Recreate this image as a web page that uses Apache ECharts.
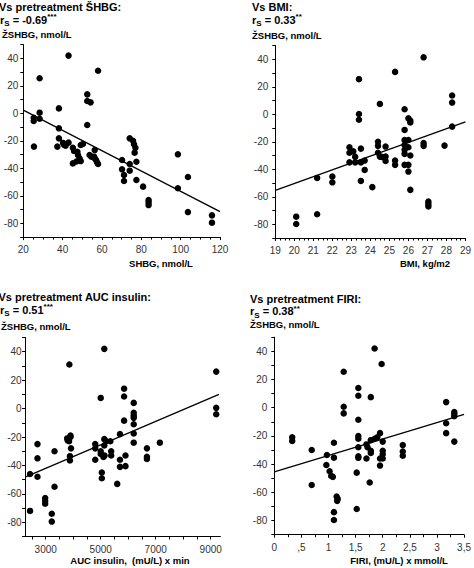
<!DOCTYPE html>
<html>
<head>
<meta charset="utf-8">
<script src="https://cdn.jsdelivr.net/npm/echarts@6/dist/echarts.min.js"></script>
<style>html,body{margin:0;padding:0;background:#fff}#c{width:474px;height:568px}</style>
</head>
<body>
<div id="c"></div>
<script>
// Panel 1: vs pretreatment SHBG
const shbgX = [25.3,25.3,25.4,28.3,28.3,28.3,38.1,38.1,38.1,37.3,43,40.2,41.5,43,40.8,45.2,45.8,45.2,47.5,47.8,48.6,49.2,47,49.2,50.3,52.5,52.5,54.2,52.5,53.7,54.6,56,56.3,58,56.3,57,57.5,58,70.2,70.2,71.2,71.2,74.1,74.1,74.1,75.8,76.3,77,76.6,77.5,77.5,80.9,83.7,83.7,83.7,98.6,98.6,103.7,103.7,115.9,115.9];
const shbgY = [-3.2,-5.6,-24.2,25.5,0.5,-3.9,3.6,-10.9,-18.2,-24.2,42,-21.5,-23.5,-21.3,-23,-25,-27.4,-36.4,-28,-30.3,-32.7,-34.7,-35,-23,-22.3,13.8,9,8,-8.5,-30.3,-31.5,-31.5,-26.7,31,-32.7,-34,-35.6,-36.8,-33.9,-40.7,-44.8,-49.2,-18.2,-36.8,-41.7,-19.9,-22.5,-25,-28.6,-35.2,-48.5,-53.3,-63,-64.7,-66.7,-29.8,-54.5,-46.3,-71.8,-74.2,-79.5];
const shbgLineX = [20,120];
const shbgLineY = [2.4,-71.5];

// Panel 2: vs BMI
const bmiX = [20.1,20.1,21.2,21.2,22,22,22.9,22.9,22.9,23.1,23.2,23.2,23.4,23.4,23.4,23.5,23.5,23.5,23.7,23.7,24.1,24.4,24.4,24.4,24.5,24.5,24.6,24.8,24.8,24.8,25.3,25.3,25.3,25.8,25.8,25.8,25.8,25.8,25.8,25.8,26,26.1,26.1,26,26,26,26,26.1,26.1,26.8,26.8,26.8,27.05,27.05,27.05,27.9,28.3,28.3,28.3];
const bmiY = [-74.5,-79.8,-46.3,-72.7,-45.3,-49.5,-24,-28,-35,-27,-31,-35,25.5,0.2,-4,-25,-35,-48.5,-33.7,-40.5,-53,-20,-23,-28,-30.8,7.5,-31,-23.5,-30.8,-34,30.8,-33.7,-36.8,3.6,-11.4,-18.7,-22.3,-25.9,-28.8,-36.8,-3,-4.6,-6,-18.7,-24,-36.8,-41.7,-30,-55,41.4,-21,-23,-63.5,-65.2,-67,-22.8,13.6,8.5,-9];
const bmiLineX = [19,29];
const bmiLineY = [-55.3,-5.5];

// Panel 3: vs pretreatment AUC insulin
const aucX = [2430,2430,2700,2700,2700,2980,2980,2980,3220,3220,3320,3320,3860,3780,3800,3900,3900,3850,3920,3880,3880,4800,4800,4800,5000,5000,5000,5040,5040,5130,5130,5130,5140,5100,5200,5350,5380,5380,5600,5700,5700,5700,5850,5850,5850,5900,5900,6200,6200,6200,6200,6200,6200,6200,6680,6680,6680,7150,9200,9200,9200];
const aucY = [-46,-72,-25,-35,-48,-63,-65,-67,-74,-79.5,-30,-55,31,-21,-22.5,-20,-19,-23,-28,-33.5,-36.5,-25,-28,-36,7.5,-30,-32,-45,-49,42,-21.5,-26,-33,-34,-23,-23,-30,-33,-53,-18,-36,-41,14,8.5,-8.5,-33,-40.5,4,-3,-5,-6.5,-11,-17.5,-24,-28,-34,-35.5,-24,26,0.5,-4];
const aucLineX = [2250,9300];
const aucLineY = [-48.2,10];
const aucTickLabels = [3000, 5000, 7000, 9000];

// Panel 4: vs pretreatment FIRI
const firiX = [0.33,0.33,0.69,0.69,0.97,0.96,1.02,1.05,1.08,1.1,1.1,1.15,1.16,1.17,1.1,1.1,1.28,1.28,1.28,1.55,1.55,1.55,1.55,1.55,1.55,1.55,1.55,1.52,1.52,1.7,1.72,1.7,1.78,1.78,1.78,1.78,1.76,1.85,1.85,1.98,1.9,1.95,1.95,1.95,2.0,2.0,2.0,2.0,2.37,2.37,2.37,3.17,3.17,3.17,3.32,3.32,3.32,3.32];
const firiY = [-21,-23.5,-30,-54.8,-33.5,-40.6,-45,-48.4,-49,-24.8,-35.4,-63,-66,-64.5,-74,-79.6,25.5,0.7,-4,14,8.5,-8.5,-20,-22,-28,-34.5,-35.5,-46,-71.8,-26,-28,-36,7.5,-23,-30.5,-32,-53,-22,42,31,-21,-18,-36,-41,-24,-30.5,-33,-36,-26.5,-31,-34,4,-11,-18,-3,-4.5,-6,-24];
const firiLineX = [0,3.5];
const firiLineY = [-45.5,-4.7];

// Texts
const titles = ['Vs pretreatment ŠHBG:', 'Vs BMI:', 'Vs pretreatment AUC insulin:', 'Vs pretreatment FIRI:'];
const rsValues = [' = -0.69', ' = 0.33', ' = 0.51', ' = 0.38'];
const rsStars = ['***', '**', '***', '**'];
const yNames = ['ŽSHBG, nmol/L', 'ŽSHBG, nmol/L', 'ŽSHBG, nmol/L', 'ŽSHBG, nmol/L'];
const xNames = ['SHBG, nmol/L', 'BMI, kg/m2', 'AUC insulin,  (mU/L) x min', 'FIRI, (mU/L) x mmol/L'];
const yMin = -90, yMax = 50, yStep = 10;

const FF = '"Liberation Sans", Arial, Helvetica, sans-serif';
const zip = (a, b) => a.map((v, i) => [v, b[i]]);

// panel 3 scale: 0.0275 px per unit, axis from 2250 at x=25.1
const p3px = 0.0275;
const grids = [
  {left: 23.3, top: 44.6, width: 196.7, height: 192.5},
  {left: 275.3, top: 45.5, width: 193.4, height: 192.5},
  {left: 25.1, top: 337.5, width: (9350 - 2250) * p3px, height: 199},
  {left: 274.3, top: 337.2, width: 196, height: 197.5},
  // tick-only grid for panel 3 x axis (starts at 2500)
  {left: 25.1 + 250 * p3px, top: 337.5, width: (9350 - 2500) * p3px, height: 199}
];

const lab = {color: '#333', fontSize: 10, fontFamily: FF};
const axisCommon = {
  axisLine: {show: true, onZero: false, lineStyle: {color: '#000', width: 1}},
  axisTick: {show: true, length: 3, lineStyle: {color: '#000', width: 1}},
  splitLine: {show: false},
  axisLabel: lab
};

const xAxes = [
  Object.assign({}, axisCommon, {gridIndex: 0, type: 'value', min: 20, max: 120, interval: 20,
    minorTick: {show: true, splitNumber: 4, length: 2.5, lineStyle: {color: '#000'}},
    axisLabel: Object.assign({}, lab, {margin: 7})}),
  Object.assign({}, axisCommon, {gridIndex: 1, type: 'value', min: 19, max: 29, interval: 1,
    minorTick: {show: true, splitNumber: 4, length: 2.5, lineStyle: {color: '#000'}},
    axisLabel: Object.assign({}, lab, {margin: 7, showMaxLabel: true})}),
  Object.assign({}, axisCommon, {gridIndex: 2, type: 'value', min: 2250, max: 9350,
    axisTick: {show: false}, axisLabel: {show: false}}),
  Object.assign({}, axisCommon, {gridIndex: 3, type: 'value', min: 0, max: 3.5, interval: 0.5,
    minorTick: {show: true, splitNumber: 2, length: 2.5, lineStyle: {color: '#000'}},
    axisLabel: Object.assign({}, lab, {margin: 8,
      formatter: v => { if (v === 0) return '0'; let s = String(Math.round(v * 10) / 10).replace('.', ','); if (s.startsWith('0,')) s = s.slice(1); return s; }})}),
  Object.assign({}, axisCommon, {gridIndex: 4, type: 'value', position: 'bottom', min: 2500, max: 9350, interval: 500,
    axisLine: {show: false, onZero: false},
    axisTick: {show: true, length: 3, lineStyle: {color: '#000', width: 1}},
    axisLabel: Object.assign({}, lab, {margin: 8, showMaxLabel: false,
      formatter: v => (aucTickLabels.indexOf(v) >= 0 ? String(v) : '')})})
];

const yMargins = [5, 7, 3.5, 7];
const yAxes = [0, 1, 2, 3].map(i => Object.assign({}, axisCommon, {
  gridIndex: i, type: 'value', min: yMin, max: yMax, interval: yStep,
  axisLabel: Object.assign({}, lab, {margin: yMargins[i],
    formatter: v => (v % 20 === 0 ? String(v) : '')})
}));
yAxes.push({gridIndex: 4, type: 'value', min: yMin, max: yMax, show: false});

const scatterData = [zip(shbgX, shbgY), zip(bmiX, bmiY), zip(aucX, aucY), zip(firiX, firiY)];
const lineData = [zip(shbgLineX, shbgLineY), zip(bmiLineX, bmiLineY), zip(aucLineX, aucLineY), zip(firiLineX, firiLineY)];

const series = [];
for (let i = 0; i < 4; i++) {
  series.push({type: 'line', xAxisIndex: i, yAxisIndex: i, data: lineData[i], symbol: 'none',
    lineStyle: {color: '#000', width: 1.3}, silent: true, z: 2});
  series.push({type: 'scatter', xAxisIndex: i, yAxisIndex: i, data: scatterData[i], symbol: 'circle',
    symbolSize: 6.5, itemStyle: {color: '#000', opacity: 1}, silent: true, z: 3});
}
series.push({type: 'scatter', xAxisIndex: 4, yAxisIndex: 4, data: [], silent: true});

// text positions (left x, center y)
const titlePos = [[-1, 7], [252, 7], [-1.5, 297], [250, 298.5]];
const rsPos = [[0, 19.5], [252, 19.5], [0, 309.5], [250, 311]];
const yNamePos = [[2, 34.5], [252, 35], [1, 326.5], [250, 324.5]];
const xNamePos = [[161, 263], [425, 263], [130, 560.5], [399, 560.5]];

const graphics = [];
for (let i = 0; i < 4; i++) {
  graphics.push({type: 'text', x: titlePos[i][0], y: titlePos[i][1], silent: true,
    style: {text: titles[i], fill: '#000', font: 'bold 11px ' + FF, verticalAlign: 'middle', align: 'left'}});
  graphics.push({type: 'text', x: rsPos[i][0], y: rsPos[i][1], silent: true,
    style: {text: '{r|r}{s|S}{v|' + rsValues[i] + '}{a|' + rsStars[i] + '}', verticalAlign: 'middle', align: 'left',
      rich: {
        r: {fontSize: 11, fontWeight: 'bold', fontFamily: FF, color: '#000', lineHeight: 14, verticalAlign: 'middle'},
        s: {fontSize: 8, fontWeight: 'bold', fontFamily: FF, color: '#000', lineHeight: 14, verticalAlign: 'bottom', padding: [0, 0, -1, 0]},
        v: {fontSize: 11, fontWeight: 'bold', fontFamily: FF, color: '#000', lineHeight: 14, verticalAlign: 'middle'},
        a: {fontSize: 8, fontWeight: 'bold', fontFamily: FF, color: '#000', lineHeight: 14, verticalAlign: 'top'}
      }}});
  graphics.push({type: 'text', x: yNamePos[i][0], y: yNamePos[i][1], silent: true,
    style: {text: yNames[i], fill: '#000', font: 'bold 9.5px ' + FF, verticalAlign: 'middle', align: 'left'}});
  graphics.push({type: 'text', x: xNamePos[i][0], y: xNamePos[i][1], silent: true,
    style: {text: xNames[i], fill: '#000', font: 'bold 9.5px ' + FF, verticalAlign: 'middle', align: 'center'}});
}

const chart = echarts.init(document.getElementById('c'), null, {renderer: 'svg', width: 474, height: 568});
chart.setOption({
  animation: false,
  backgroundColor: '#fff',
  grid: grids,
  xAxis: xAxes,
  yAxis: yAxes,
  series: series,
  graphic: graphics
});
</script>
</body>
</html>
